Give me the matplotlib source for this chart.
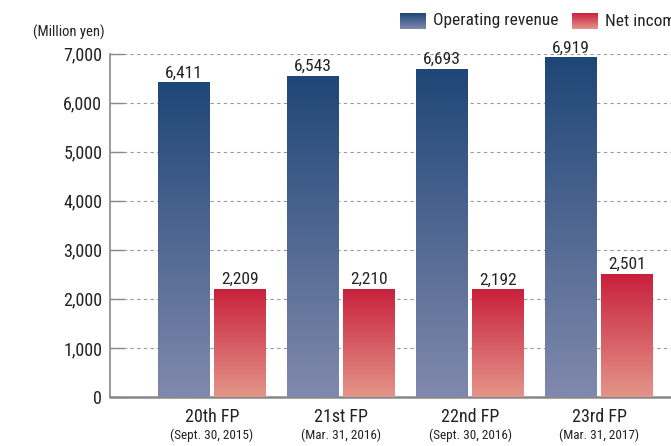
import numpy as np
import matplotlib
matplotlib.use("Agg")
import matplotlib.pyplot as plt
from matplotlib.colors import LinearSegmentedColormap

# ---- data ----
periods = ["20th FP", "21st FP", "22nd FP", "23rd FP"]
dates = ["(Sept. 30, 2015)", "(Mar. 31, 2016)", "(Sept. 30, 2016)", "(Mar. 31, 2017)"]
operating_revenue = [6411, 6543, 6693, 6919]
net_income = [2209, 2210, 2192, 2501]
series_names = ["Operating revenue", "Net income"]
yticks = [0, 1000, 2000, 3000, 4000, 5000, 6000, 7000]

plt.rcParams['font.family'] = ['Roboto Condensed', 'DejaVu Sans']

blue_cmap = LinearSegmentedColormap.from_list("b", ["#8189ac", "#1e4677"])
red_cmap = LinearSegmentedColormap.from_list("r", ["#e4958a", "#c8203c"])
grad = np.linspace(0, 1, 256).reshape(-1, 1)
TXT = "#222222"

W, H = 671, 446
fig = plt.figure(figsize=(W / 100, H / 100), dpi=100)
ax = fig.add_axes([110 / W, 1 - 397 / H, (671 - 110) / W, (397 - 53.5) / H])

x = np.arange(len(periods))
bw = 0.40
off = 0.218

def grad_bars(xpos, vals, cmap):
    bars = ax.bar(xpos, vals, bw, facecolor="none", edgecolor="none", zorder=3)
    for b in bars:
        x0, y0 = b.get_x(), b.get_y()
        w, h = b.get_width(), b.get_height()
        im = ax.imshow(grad, cmap=cmap, extent=[x0, x0 + w, y0, y0 + h],
                       origin="lower", aspect="auto", zorder=3,
                       interpolation="bilinear")
        im.set_clip_path(b)
    return bars

b1 = grad_bars(x - off, operating_revenue, blue_cmap)
b2 = grad_bars(x + off, net_income, red_cmap)

for bars, vals in ((b1, operating_revenue), (b2, net_income)):
    for b, v in zip(bars, vals):
        ax.annotate(f"{v:,}", (b.get_x() + b.get_width() / 2, v), xytext=(0, 2),
                    textcoords="offset pixels", ha="center", va="bottom",
                    fontsize=12.5, color=TXT, zorder=4)

ax.set_xlim(-0.791, 3.558)
ax.set_ylim(0, 7000)
ax.set_yticks(yticks)
ax.set_yticklabels([f"{t:,}" for t in yticks], fontsize=13, color=TXT)
ax.tick_params(axis="y", direction="in", length=10, width=1, color="#888888", pad=5.5)
ax.set_xticks(x)
ax.set_xticklabels([])
ax.tick_params(axis="x", length=0)
for t in yticks[1:]:
    ax.axhline(t, color="#999999", lw=0.8, ls=(0, (3, 3)), zorder=1)

for s in ("top", "right"):
    ax.spines[s].set_visible(False)
ax.spines["left"].set_color("#888888")
ax.spines["left"].set_linewidth(1.2)
ax.spines["bottom"].set_color("#888888")
ax.spines["bottom"].set_linewidth(1.8)

for xi, p, d in zip(x, periods, dates):
    ax.annotate(p, (xi, 0), xytext=(0, -11), textcoords="offset pixels",
                ha="center", va="top", fontsize=13, color=TXT,
                annotation_clip=False)
    ax.annotate(d, (xi, 0), xytext=(0, -32), textcoords="offset pixels",
                ha="center", va="top", fontsize=9.5, color=TXT,
                annotation_clip=False)

fig.text(33 / W, 1 - 32 / H, "(Million yen)", fontsize=10.5, va="center", ha="left",
         color=TXT)

# legend (manual, cropped at right like the reference)
for lx, cmap, name in ((400, blue_cmap, series_names[0]), (572, red_cmap, series_names[1])):
    lax = fig.add_axes([lx / W, 1 - 29 / H, 26 / W, 16 / H])
    lax.imshow(grad, cmap=cmap, origin="lower", aspect="auto", extent=[0, 1, 0, 1])
    lax.set_axis_off()
    fig.text((lx + 33) / W, 1 - 21 / H, name, fontsize=12.5, va="center", ha="left",
             color=TXT)

fig.savefig("out.png", dpi=100)
